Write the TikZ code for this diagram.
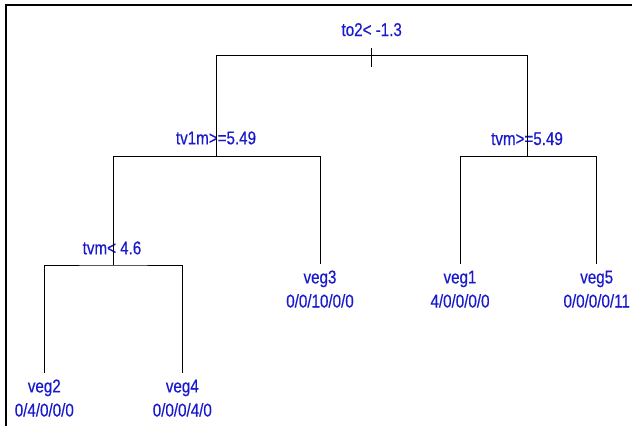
\documentclass[tikz,border=0pt]{standalone}
\usepackage{fontspec}
\newfontfamily\lblfont{Liberation Sans}[FakeStretch=0.82,FakeBold=0.4]
\definecolor{lblblue}{RGB}{25,25,205}
\tikzset{
  lbl/.style={font=\lblfont\fontsize{18.5}{21}\selectfont, text=lblblue,
              inner sep=0pt, anchor=base},
  branch/.style={draw=black, line width=0.9pt},
  frameline/.style={draw=black, line width=1.8pt}
}
\begin{document}
\begin{tikzpicture}[x=1pt, y=-1pt]
\useasboundingbox (0,0) rectangle (632,426);
\fill[white] (0,0) rectangle (632,426);

% frame (top and left edges)
\draw[frameline] (6,426) -- (6,4.9) -- (632,4.9);

% split points and leaf ends
\coordinate (s0) at (371.7,55.7);
\coordinate (s1) at (216.7,156.7);
\coordinate (s2) at (527.7,156.7);
\coordinate (s3) at (113.3,265);
\coordinate (l3) at (320,264);
\coordinate (l1) at (460,264);
\coordinate (l5) at (596.7,264);
\coordinate (l2) at (44.3,373);
\coordinate (l4) at (182.3,373);

% branches
\draw[branch] (s1) |- (s0) -| (s2);
\draw[branch] (s3) |- (s1) -| (l3);
\draw[branch] (l1) |- (s2) -| (l5);
\draw[branch] (l2) |- (s3) -| (l4);

% split labels
\node[lbl] (t0) at (371.7,36) {to2< -1.3};
\node[lbl] (t1) at (216,144.3) {tv1m>=5.49};
\node[lbl] (t2) at (527,145) {tvm>=5.49};
\node[lbl] (t3) at (112,254.3) {tvm< 4.6};

% vertical strokes redrawn over the labels
\draw[branch] (s1) -- ++(0,-30);
\draw[branch] (s2) -- ++(0,-30);
\draw[branch] (s3) -- ++(0,-30);
\draw[branch] ([yshift=7.7pt]s0) -- ([yshift=-11.3pt]s0);

% leaf labels
\node[lbl] (v3) at ([yshift=-19.4pt]l3) {veg3};
\node[lbl] (c3) at ([yshift=-43.5pt]l3) {0/0/10/0/0};
\node[lbl] (v1) at ([yshift=-19.4pt]l1) {veg1};
\node[lbl] (c1) at ([yshift=-43.5pt]l1) {4/0/0/0/0};
\node[lbl] (v5) at ([yshift=-19.4pt]l5) {veg5};
\node[lbl] (c5) at ([yshift=-43.5pt]l5) {0/0/0/0/11};
\node[lbl] (v2) at ([yshift=-19.4pt]l2) {veg2};
\node[lbl] (c2) at ([yshift=-43.5pt]l2) {0/4/0/0/0};
\node[lbl] (v4) at ([yshift=-19.4pt]l4) {veg4};
\node[lbl] (c4) at ([yshift=-43.5pt]l4) {0/0/0/4/0};
\end{tikzpicture}
\end{document}
